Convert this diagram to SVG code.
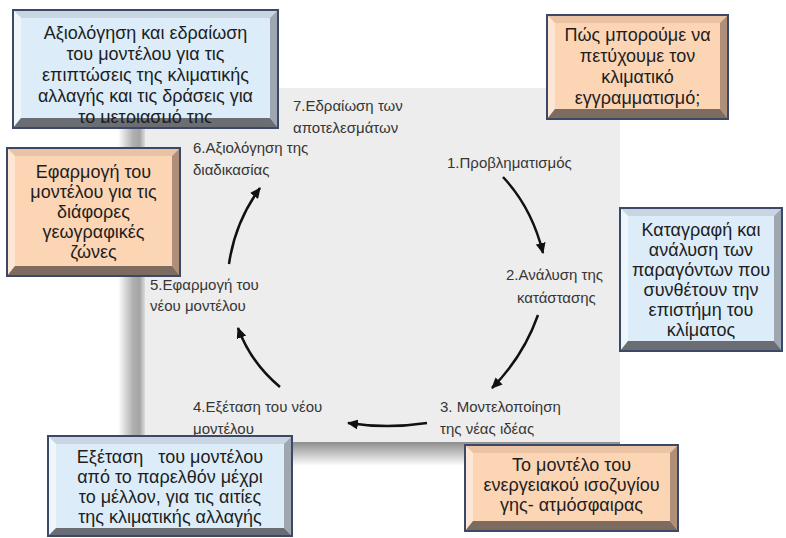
<svg xmlns="http://www.w3.org/2000/svg" width="786" height="538" viewBox="0 0 786 538">
<style>
.bt{font-family:"Liberation Sans",Arial,sans-serif;font-size:18px;fill:#1e1e1e;text-anchor:middle}
.lb{font-family:"Liberation Sans",Arial,sans-serif;font-size:15px;fill:#363636}
.brd{fill:none;stroke:#3b4868;stroke-width:2}
.bf{fill:#dcedf9}.bt1{fill:#c9d6e2}.bl1{fill:#eef5fb}.br1{fill:#9ea6b0}.bb1{fill:#6a6e74}
.of{fill:#fcd5b5}.ot1{fill:#e9c3a4}.ol1{fill:#fde6d3}.or1{fill:#b08f78}.ob1{fill:#7e6b5f}
.ar{fill:none;stroke:#111;stroke-width:2.5;marker-end:url(#ah)}
</style>
<defs>
<marker id="ah" markerUnits="userSpaceOnUse" markerWidth="12" markerHeight="10" refX="10" refY="5" orient="auto">
<path d="M0,0 L11,5 L0,10 Z" fill="#111"/>
</marker>
<linearGradient id="ls" x1="0" y1="0" x2="1" y2="0">
<stop offset="0" stop-color="#ffffff"/>
<stop offset="0.55" stop-color="#b0b0b0"/>
<stop offset="0.8" stop-color="#a4a4a4"/>
<stop offset="1" stop-color="#dcdcdc"/>
</linearGradient>
<linearGradient id="bs" x1="0" y1="0" x2="0" y2="1">
<stop offset="0" stop-color="#8e8e8e"/>
<stop offset="1" stop-color="#ffffff"/>
</linearGradient>
<clipPath id="cA"><rect x="13" y="10" width="265" height="113"/></clipPath>
</defs>

<g id="panel">
<rect x="118" y="96" width="27" height="350" fill="url(#ls)"/>
<rect x="130" y="442" width="490" height="24" fill="url(#bs)"/>
<rect x="145" y="88" width="475" height="354" fill="#ededed"/>
</g>

<g id="connectors">
<path class="ar" d="M503,177 Q532,208 543,253"/>
<path class="ar" d="M538,315 Q523,357 492,388"/>
<path class="ar" d="M427,423 Q387,429 348,423"/>
<path class="ar" d="M280,387 Q251,363 238,328"/>
<path class="ar" d="M229,264 Q235,222 260,188"/>
</g>

<g id="step7"><text class="lb" x="293" y="111">7.Εδραίωση των</text><text class="lb" x="293" y="133">αποτελεσμάτων</text></g>
<g id="step6"><text class="lb" x="193" y="153">6.Αξιολόγηση της</text><text class="lb" x="193" y="175">διαδικασίας</text></g>
<g id="step1"><text class="lb" x="447" y="168">1.Προβληματισμός</text></g>
<g id="step2"><text class="lb" x="506" y="280">2.Ανάλυση της</text><text class="lb" x="517" y="303">κατάστασης</text></g>
<g id="step5"><text class="lb" x="150" y="290">5.Εφαρμογή του</text><text class="lb" x="150" y="311">νέου μοντέλου</text></g>
<g id="step4"><text class="lb" x="193" y="412">4.Εξέταση του νέου</text><text class="lb" x="193" y="434">μοντέλου</text></g>
<g id="step3"><text class="lb" x="440" y="412">3. Μοντελοποίηση</text><text class="lb" x="440" y="434">της νέας ιδέας</text></g>

<g id="boxA">
<rect class="bf" x="13" y="10" width="265" height="118"/>
<polygon class="bt1" points="13,10 278,10 270,18 21,18"/>
<polygon class="bl1" points="13,10 21,18 21,118 13,128"/>
<polygon class="br1" points="278,10 278,128 270,118 270,18"/>
<polygon class="bb1" points="13,128 21,118 270,118 278,128"/>
<rect class="brd" x="13" y="10" width="265" height="118"/>
<g clip-path="url(#cA)">
<text class="bt" x="145.5" y="38.5">Αξιολόγηση και εδραίωση</text>
<text class="bt" x="145.5" y="59.5">του μοντέλου για τις</text>
<text class="bt" x="145.5" y="80.5">επιπτώσεις της κλιματικής</text>
<text class="bt" x="145.5" y="101.5">αλλαγής και τις δράσεις για</text>
<text class="bt" x="145.5" y="122.5">το μετριασμό της</text>
</g>
</g>

<g id="boxB">
<rect class="of" x="547" y="15" width="181" height="104"/>
<polygon class="ot1" points="547,15 728,15 720,23 555,23"/>
<polygon class="ol1" points="547,15 555,23 555,109 547,119"/>
<polygon class="or1" points="728,15 728,119 720,109 720,23"/>
<polygon class="ob1" points="547,119 555,109 720,109 728,119"/>
<rect class="brd" x="547" y="15" width="181" height="104"/>
<text class="bt" x="637.5" y="41">Πώς μπορούμε να</text>
<text class="bt" x="637.5" y="62">πετύχουμε τον</text>
<text class="bt" x="637.5" y="83">κλιματικό</text>
<text class="bt" x="637.5" y="104">εγγραμματισμό;</text>
</g>

<g id="boxC">
<rect class="of" x="7" y="148" width="173" height="128"/>
<polygon class="ot1" points="7,148 180,148 172,156 15,156"/>
<polygon class="ol1" points="7,148 15,156 15,266 7,276"/>
<polygon class="or1" points="180,148 180,276 172,266 172,156"/>
<polygon class="ob1" points="7,276 15,266 172,266 180,276"/>
<rect class="brd" x="7" y="148" width="173" height="128"/>
<text class="bt" x="93.5" y="178">Εφαρμογή του</text>
<text class="bt" x="93.5" y="198">μοντέλου για τις</text>
<text class="bt" x="93.5" y="218">διάφορες</text>
<text class="bt" x="93.5" y="238">γεωγραφικές</text>
<text class="bt" x="93.5" y="258">ζώνες</text>
</g>

<g id="boxD">
<rect class="bf" x="620" y="208" width="162" height="143"/>
<polygon class="bt1" points="620,208 782,208 774,216 628,216"/>
<polygon class="bl1" points="620,208 628,216 628,341 620,351"/>
<polygon class="br1" points="782,208 782,351 774,341 774,216"/>
<polygon class="bb1" points="620,351 628,341 774,341 782,351"/>
<rect class="brd" x="620" y="208" width="162" height="143"/>
<text class="bt" x="701" y="236">Καταγραφή και</text>
<text class="bt" x="701" y="256">ανάλυση των</text>
<text class="bt" x="701" y="276">παραγόντων που</text>
<text class="bt" x="701" y="296">συνθέτουν την</text>
<text class="bt" x="701" y="316">επιστήμη του</text>
<text class="bt" x="701" y="336">κλίματος</text>
</g>

<g id="boxE">
<rect class="bf" x="48" y="436" width="244" height="100"/>
<polygon class="bt1" points="48,436 292,436 284,444 56,444"/>
<polygon class="bl1" points="48,436 56,444 56,528 48,536"/>
<polygon class="br1" points="292,436 292,536 284,528 284,444"/>
<polygon class="bb1" points="48,536 56,528 284,528 292,536"/>
<rect class="brd" x="48" y="436" width="244" height="100"/>
<text class="bt" x="170" y="463" style="white-space:pre">Εξέταση   του μοντέλου</text>
<text class="bt" x="170" y="483">από το παρελθόν μέχρι</text>
<text class="bt" x="170" y="503">το μέλλον, για τις αιτίες</text>
<text class="bt" x="170" y="523">της κλιματικής αλλαγής</text>
</g>

<g id="boxF">
<rect class="of" x="465" y="445" width="213" height="86"/>
<polygon class="ot1" points="465,445 678,445 670,453 473,453"/>
<polygon class="ol1" points="465,445 473,453 473,521 465,531"/>
<polygon class="or1" points="678,445 678,531 670,521 670,453"/>
<polygon class="ob1" points="465,531 473,521 670,521 678,531"/>
<rect class="brd" x="465" y="445" width="213" height="86"/>
<text class="bt" x="571.5" y="471">Το μοντέλο του</text>
<text class="bt" x="571.5" y="491">ενεργειακού ισοζυγίου</text>
<text class="bt" x="571.5" y="511">γης- ατμόσφαιρας</text>
</g>
</svg>
